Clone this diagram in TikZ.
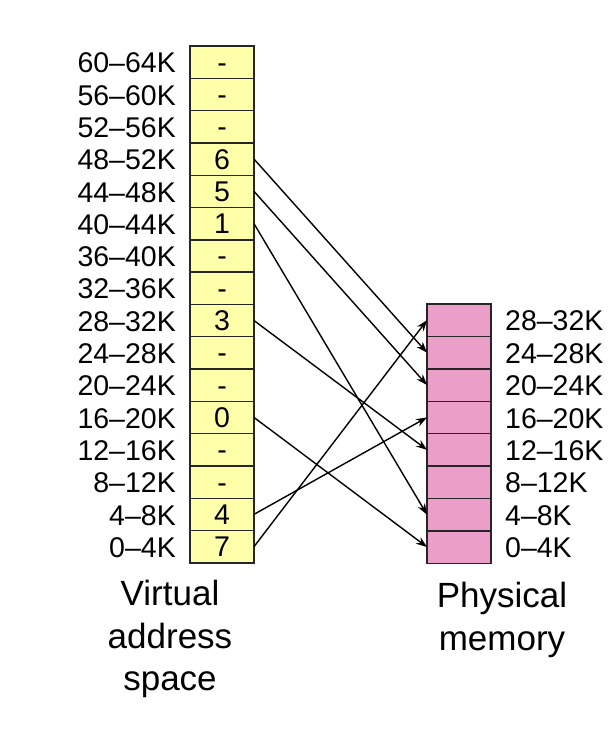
\documentclass[tikz,border=0pt]{standalone}
\usepackage{fontspec}
\setmainfont{Liberation Sans}
\usetikzlibrary{arrows.meta}
\definecolor{vyellow}{RGB}{255,255,170}
\definecolor{ppink}{RGB}{234,158,200}
\begin{document}
\begin{tikzpicture}[x=1pt,y=-1pt,
  cell/.style={draw=black!85, line width=1.4pt, minimum width=64pt, minimum height=32.3pt,
    inner sep=0pt, outer sep=0pt, anchor=north west, text height=20pt, text depth=0pt,
    font=\fontsize{28.5}{28.5}\selectfont},
  vbox/.style={cell, fill=vyellow},
  pbox/.style={cell, fill=ppink, minimum height=32.4pt},
  lbl/.style={inner sep=0pt, text height=20pt, text depth=0pt, font=\fontsize{28.5}{28.5}\selectfont},
  captext/.style={inner sep=0pt, align=center, anchor=north, font=\fontsize{35}{42.5}\selectfont},
  arr/.style={line width=1.4pt, -{Stealth[length=11pt,width=8pt]}}
]
\useasboundingbox (0,0) rectangle (609,742);
\foreach \i/\v in {15/-,14/-,13/-,12/6,11/5,10/1,9/-,8/-,7/3,6/-,5/-,4/0,3/-,2/-,1/4,0/7} {
  \node[vbox] (v\i) at (190,{46+(15-\i)*32.3}) {\v};
  \pgfmathtruncatemacro\lo{4*\i}
  \pgfmathtruncatemacro\hi{4*\i+4}
  \node[lbl, anchor=east] (vl\i) at (176,{46+(15-\i)*32.3+16.8}) {\lo\textendash\hi K};
}
\foreach \i in {0,...,7} {
  \node[pbox] (p\i) at (427,{304+(7-\i)*32.4}) {};
  \pgfmathtruncatemacro\lo{4*\i}
  \pgfmathtruncatemacro\hi{4*\i+4}
  \node[lbl, anchor=west] (pl\i) at (505,{304+(7-\i)*32.4+16.8}) {\lo\textendash\hi K};
}
\draw[arr] (v12.east) -- (p6.west);
\draw[arr] (v11.east) -- (p5.west);
\draw[arr] (v10.east) -- (p1.west);
\draw[arr] (v7.east) -- (p3.west);
\draw[arr] (v4.east) -- (p0.west);
\draw[arr] (v1.east) -- (p4.west);
\draw[arr] (v0.east) -- (p7.west);
\node[captext] (vcap) at (170,580) {Virtual\\address\\space};
\node[captext] (pcap) at (502,582) {Physical\\memory};
\end{tikzpicture}
\end{document}
